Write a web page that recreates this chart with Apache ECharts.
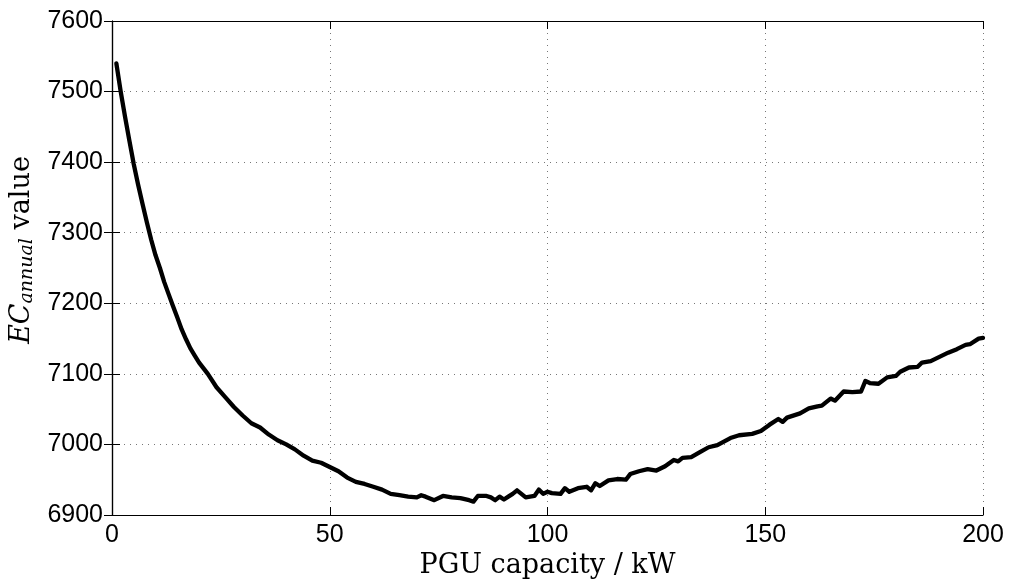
<!DOCTYPE html>
<html>
<head>
<meta charset="utf-8">
<script src="https://cdn.jsdelivr.net/npm/echarts@6/dist/echarts.min.js"></script>
<style>html,body{margin:0;padding:0;background:#fff}#c{width:1010px;height:579px}</style>
</head>
<body>
<div id="c"></div>
<script>
const capacityKW = [1,2,3,4,5,6,7,8,9,10,11,12,13,14,15,16,17,18,19,20,22,24,26,28,30,32,34,36,38,40,42,44,46,48,50,52,54,56,58,60,62,64,66,68,70,71,72,74,76,78,80,82,83,84,86,87,88,89,90,91,92,93,95,97,98,99,100,101,103,104,105,107,109,110,111,112,114,116,118,119,121,123,125,127,129,130,131,133,135,137,139,142,144,147,149,151,153,154,155,158,160,162,163,165,166,168,170,172,173,174,176,178,180,181,183,185,186,188,190,192,194,196,197,199,200];
const ecAnnual = [7540,7500,7464,7430,7397,7368,7341,7315,7290,7268,7250,7230,7213,7196,7180,7163,7149,7136,7126,7116,7100,7081,7067,7053,7041,7030,7024,7014,7006,7000,6993,6984,6977,6974,6968,6962,6953,6947,6944,6940,6936,6930,6928,6926,6925,6928,6926,6921,6927,6925,6924,6921,6919,6927,6927,6925,6921,6926,6922,6926,6930,6935,6925,6927,6936,6930,6933,6931,6930,6938,6933,6938,6940,6935,6945,6941,6949,6951,6950,6958,6962,6965,6963,6969,6978,6976,6981,6982,6989,6996,6999,7009,7013,7015,7019,7028,7036,7032,7038,7044,7051,7054,7055,7065,7062,7075,7074,7075,7090,7087,7086,7095,7097,7103,7109,7110,7116,7118,7124,7130,7135,7141,7142,7150,7151];
const xTicks = [0,50,100,150,200];
const yTicks = [6900,7000,7100,7200,7300,7400,7500,7600];

const chart = echarts.init(document.getElementById('c'), null, {renderer:'canvas'});
const labelFont = {fontFamily:'Liberation Sans', fontSize:25, color:'#000', formatter:(v)=>String(v)};
const gridLine = {show:true, lineStyle:{color:'#777', type:[1,5], width:1}};
const axisLine = {show:true, lineStyle:{color:'#000', width:1.2}};
const tickIn = {show:true, inside:true, length:8, lineStyle:{color:'#000', width:1}};
chart.setOption({
  animation:false,
  backgroundColor:'#fff',
  grid:{left:112, right:27, top:21, bottom:64, containLabel:false, outerBoundsMode:'none'},
  xAxis:[{
    type:'value', min:xTicks[0], max:xTicks[xTicks.length-1], interval:50,
    axisLine:axisLine, axisTick:tickIn, splitLine:gridLine,
    axisLabel:Object.assign({margin:8}, labelFont),
    name:'PGU capacity / kW', nameLocation:'middle', nameGap:34,
    nameTextStyle:{fontFamily:'DejaVu Serif', fontSize:27, color:'#000'}
  },{
    type:'value', position:'top', min:0, max:200, interval:50,
    axisLine:axisLine, axisTick:tickIn, splitLine:{show:false}, axisLabel:{show:false}
  }],
  yAxis:[{
    type:'value', min:yTicks[0], max:yTicks[yTicks.length-1], interval:100,
    axisLine:axisLine, axisTick:tickIn, splitLine:gridLine,
    axisLabel:Object.assign({margin:9}, labelFont),
    name:'{i|EC}{s|annual}{r| value}', nameLocation:'middle', nameGap:63,
    nameTextStyle:{
      color:'#000',
      padding:[0,0,0,36],
      rich:{
        i:{fontFamily:'DejaVu Serif', fontStyle:'italic', fontSize:27, color:'#000'},
        s:{fontFamily:'DejaVu Serif', fontStyle:'italic', fontSize:19, color:'#000', padding:[11,0,0,0]},
        r:{fontFamily:'DejaVu Serif', fontSize:27, color:'#000'}
      }
    }
  },{
    type:'value', position:'right', min:6900, max:7600, interval:100,
    axisLine:axisLine, axisTick:tickIn, splitLine:{show:false}, axisLabel:{show:false}
  }],
  series:[{
    type:'line', xAxisIndex:0, yAxisIndex:0,
    data:capacityKW.map((x,i)=>[x, ecAnnual[i]]),
    showSymbol:false, symbol:'none',
    lineStyle:{color:'#000', width:4.3, join:'round', cap:'round'},
    clip:true
  }]
});
</script>
</body>
</html>
